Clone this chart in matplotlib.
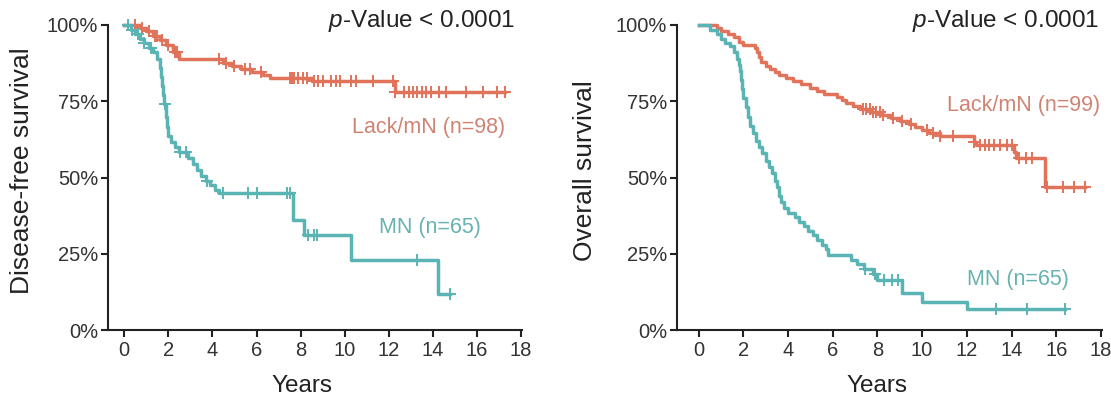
import numpy as np
import matplotlib
matplotlib.use("Agg")
import matplotlib.pyplot as plt

plt.rcParams['font.family'] = ['Liberation Sans', 'DejaVu Sans']
plt.rcParams['mathtext.fontset'] = 'custom'
plt.rcParams['mathtext.rm'] = 'Liberation Sans'
plt.rcParams['mathtext.it'] = 'Liberation Sans:italic'

ORANGE = '#E0735A'
TEAL = '#5BB4B4'
ORANGE_TXT = '#CF8473'
TEAL_TXT = '#68B2B2'

# ---- disease-free survival ----
dfs_lack_t = [0.7, 1.0, 1.3, 1.6, 1.9, 2.2, 2.5, 4.5, 4.9, 5.3, 5.8, 6.3, 6.6, 8.5, 12.3]
dfs_lack_s = [0.99, 0.98, 0.965, 0.95, 0.935, 0.91, 0.89, 0.875, 0.865, 0.855, 0.845,
              0.835, 0.825, 0.815, 0.78]
dfs_lack_cens = [0.5, 0.8, 1.1, 1.4, 1.5, 1.7, 2.0, 2.3, 2.4, 4.3, 4.6, 5.0, 5.5, 5.7,
                 6.2, 7.5, 7.6, 7.7, 7.9, 8.1, 8.3, 8.6, 8.8, 9.0, 9.4, 9.6, 9.8, 10.3,
                 10.5, 11.3, 12.2, 12.3, 12.7, 12.9, 13.1, 13.3, 13.5, 13.7, 13.9, 14.3,
                 14.6, 15.5, 16.3, 16.9, 17.3]

dfs_mn_t = [0.3, 0.5, 0.7, 0.9, 1.1, 1.3, 1.5, 1.6, 1.65, 1.7, 1.75, 1.8, 1.9, 1.95,
            2.0, 2.1, 2.3, 2.5, 2.9, 3.1, 3.3, 3.5, 3.7, 3.9, 4.1, 4.3, 7.65, 8.15,
            10.3, 14.25]
dfs_mn_s = [0.985, 0.97, 0.955, 0.94, 0.925, 0.91, 0.89, 0.86, 0.83, 0.80, 0.77, 0.74,
            0.70, 0.665, 0.635, 0.615, 0.60, 0.585, 0.565, 0.545, 0.525, 0.505, 0.49,
            0.475, 0.46, 0.448, 0.36, 0.31, 0.23, 0.117]
dfs_mn_cens = [0.15, 0.35, 0.6, 0.9, 1.2, 1.85, 2.55, 2.8, 3.75, 4.5, 5.6, 6.0, 7.4,
               7.5, 8.35, 8.6, 8.75, 13.3, 14.8]

# ---- overall survival ----
os_lack_t = [0.8, 1.0, 1.3, 1.6, 1.8, 2.0, 2.5, 2.6, 2.7, 2.8, 3.0, 3.2, 3.4, 3.6, 3.9,
             4.2, 4.6, 5.0, 5.3, 5.6, 6.2, 6.4, 6.6, 6.9, 7.2, 7.7, 8.2, 8.6, 9.0, 9.4,
             9.7, 10.0, 10.3, 10.8, 12.3, 12.4, 14.1, 14.2, 15.5]
os_lack_s = [0.99, 0.98, 0.97, 0.96, 0.945, 0.935, 0.925, 0.91, 0.895, 0.88, 0.865,
             0.855, 0.845, 0.835, 0.825, 0.815, 0.805, 0.795, 0.785, 0.775, 0.765,
             0.755, 0.745, 0.735, 0.725, 0.715, 0.705, 0.695, 0.685, 0.675, 0.665,
             0.655, 0.645, 0.635, 0.615, 0.605, 0.585, 0.565, 0.47]
os_lack_cens = [7.35, 7.5, 7.65, 7.8, 7.95, 8.1, 8.25, 8.7, 9.1, 9.5, 10.2, 10.5, 10.8,
                11.4, 12.3, 12.6, 12.8, 13.0, 13.2, 13.5, 13.8, 14.0, 14.35, 14.65,
                14.9, 15.6, 16.3, 16.8, 17.3]

os_mn_t = [0.5, 0.8, 1.0, 1.2, 1.4, 1.6, 1.7, 1.8, 1.85, 1.9, 1.95, 2.0, 2.1, 2.2, 2.3,
           2.45, 2.55, 2.7, 2.85, 3.0, 3.15, 3.3, 3.4, 3.5, 3.6, 3.7, 3.8, 4.0, 4.3,
           4.5, 4.7, 4.9, 5.1, 5.3, 5.5, 5.7, 5.8, 6.8, 7.1, 7.4, 7.8, 8.0, 9.1, 10.0,
           12.0]
os_mn_s = [0.985, 0.97, 0.955, 0.94, 0.93, 0.91, 0.89, 0.87, 0.85, 0.82, 0.79, 0.76,
           0.73, 0.70, 0.67, 0.645, 0.62, 0.60, 0.58, 0.555, 0.535, 0.515, 0.49, 0.47,
           0.44, 0.42, 0.40, 0.385, 0.37, 0.355, 0.34, 0.325, 0.31, 0.295, 0.28,
           0.265, 0.245, 0.23, 0.215, 0.20, 0.185, 0.165, 0.12, 0.093, 0.068]
os_mn_cens = [7.45, 7.9, 8.3, 8.65, 8.9, 13.3, 14.7, 16.4]

x_ticks = list(range(0, 19, 2))
y_ticks = [0, 0.25, 0.5, 0.75, 1.0]
y_ticklabels = ['0%', '25%', '50%', '75%', '100%']


def km(ax, times, surv, cens, color):
    end = max(cens)
    x = [0] + list(times) + [end]
    y = [1.0] + list(surv) + [surv[-1]]
    ax.step(x, y, where='post', color=color, lw=2.5, clip_on=False, zorder=3)
    t = np.array(times)
    s = np.array([1.0] + list(surv))
    cy = s[np.searchsorted(t, cens, side='right')]
    ax.plot(cens, cy, ls='none', marker='+', ms=9, mew=1.4, color=color,
            clip_on=False, zorder=4)


def style(ax, xmin):
    ax.set_xlim(xmin, 18.05)
    ax.set_ylim(0, 1)
    ax.set_xticks(x_ticks)
    ax.set_yticks(y_ticks)
    ax.set_yticklabels(y_ticklabels)
    for s in ['top', 'right']:
        ax.spines[s].set_visible(False)
    for s in ['left', 'bottom']:
        ax.spines[s].set_linewidth(1.5)
        ax.spines[s].set_color('#222222')
    ax.tick_params(direction='out', length=5, width=1.5, labelsize=14.5,
                   colors='#222222', labelcolor='#333333')
    ax.tick_params(axis='y', pad=2)
    ax.tick_params(axis='x', pad=3)


W, H = 1111, 401
fig = plt.figure(figsize=(W / 100, H / 100), dpi=100)

ax1 = fig.add_axes([108 / W, 1 - 330 / H, 414 / W, 305 / H])
km(ax1, dfs_lack_t, dfs_lack_s, dfs_lack_cens, ORANGE)
km(ax1, dfs_mn_t, dfs_mn_s, dfs_mn_cens, TEAL)
style(ax1, -0.74)

ax2 = fig.add_axes([677 / W, 1 - 330 / H, 425 / W, 305 / H])
km(ax2, os_lack_t, os_lack_s, os_lack_cens, ORANGE)
km(ax2, os_mn_t, os_mn_s, os_mn_cens, TEAL)
style(ax2, -0.97)

# labels
fig.text(22 / W, 1 - 171 / H, 'Disease-free survival', rotation=90, ha='center',
         va='center', fontsize=19, color='#222222')
fig.text(585 / W, 1 - 171 / H, 'Overall survival', rotation=90, ha='center',
         va='center', fontsize=19, color='#222222')
fig.text(302 / W, 1 - 386 / H, 'Years', ha='center', va='center', fontsize=17.5,
         color='#222222')
fig.text(877 / W, 1 - 386 / H, 'Years', ha='center', va='center', fontsize=17.5,
         color='#222222')

fig.text(421 / W, 1 - 21 / H, r'$p$-Value < 0.0001', ha='center', va='center',
         fontsize=17.5, color='#222222')
fig.text(1005 / W, 1 - 21 / H, r'$p$-Value < 0.0001', ha='center', va='center',
         fontsize=17.5, color='#222222')

fig.text(429 / W, 1 - 128 / H, 'Lack/mN (n=98)', ha='center', va='center',
         fontsize=15.5, color=ORANGE_TXT)
fig.text(430 / W, 1 - 228 / H, 'MN (n=65)', ha='center', va='center',
         fontsize=15.5, color=TEAL_TXT)
fig.text(1024 / W, 1 - 106 / H, 'Lack/mN (n=99)', ha='center', va='center',
         fontsize=15.5, color=ORANGE_TXT)
fig.text(1018 / W, 1 - 279 / H, 'MN (n=65)', ha='center', va='center',
         fontsize=15.5, color=TEAL_TXT)

fig.savefig('out.png', dpi=100, facecolor='white')
